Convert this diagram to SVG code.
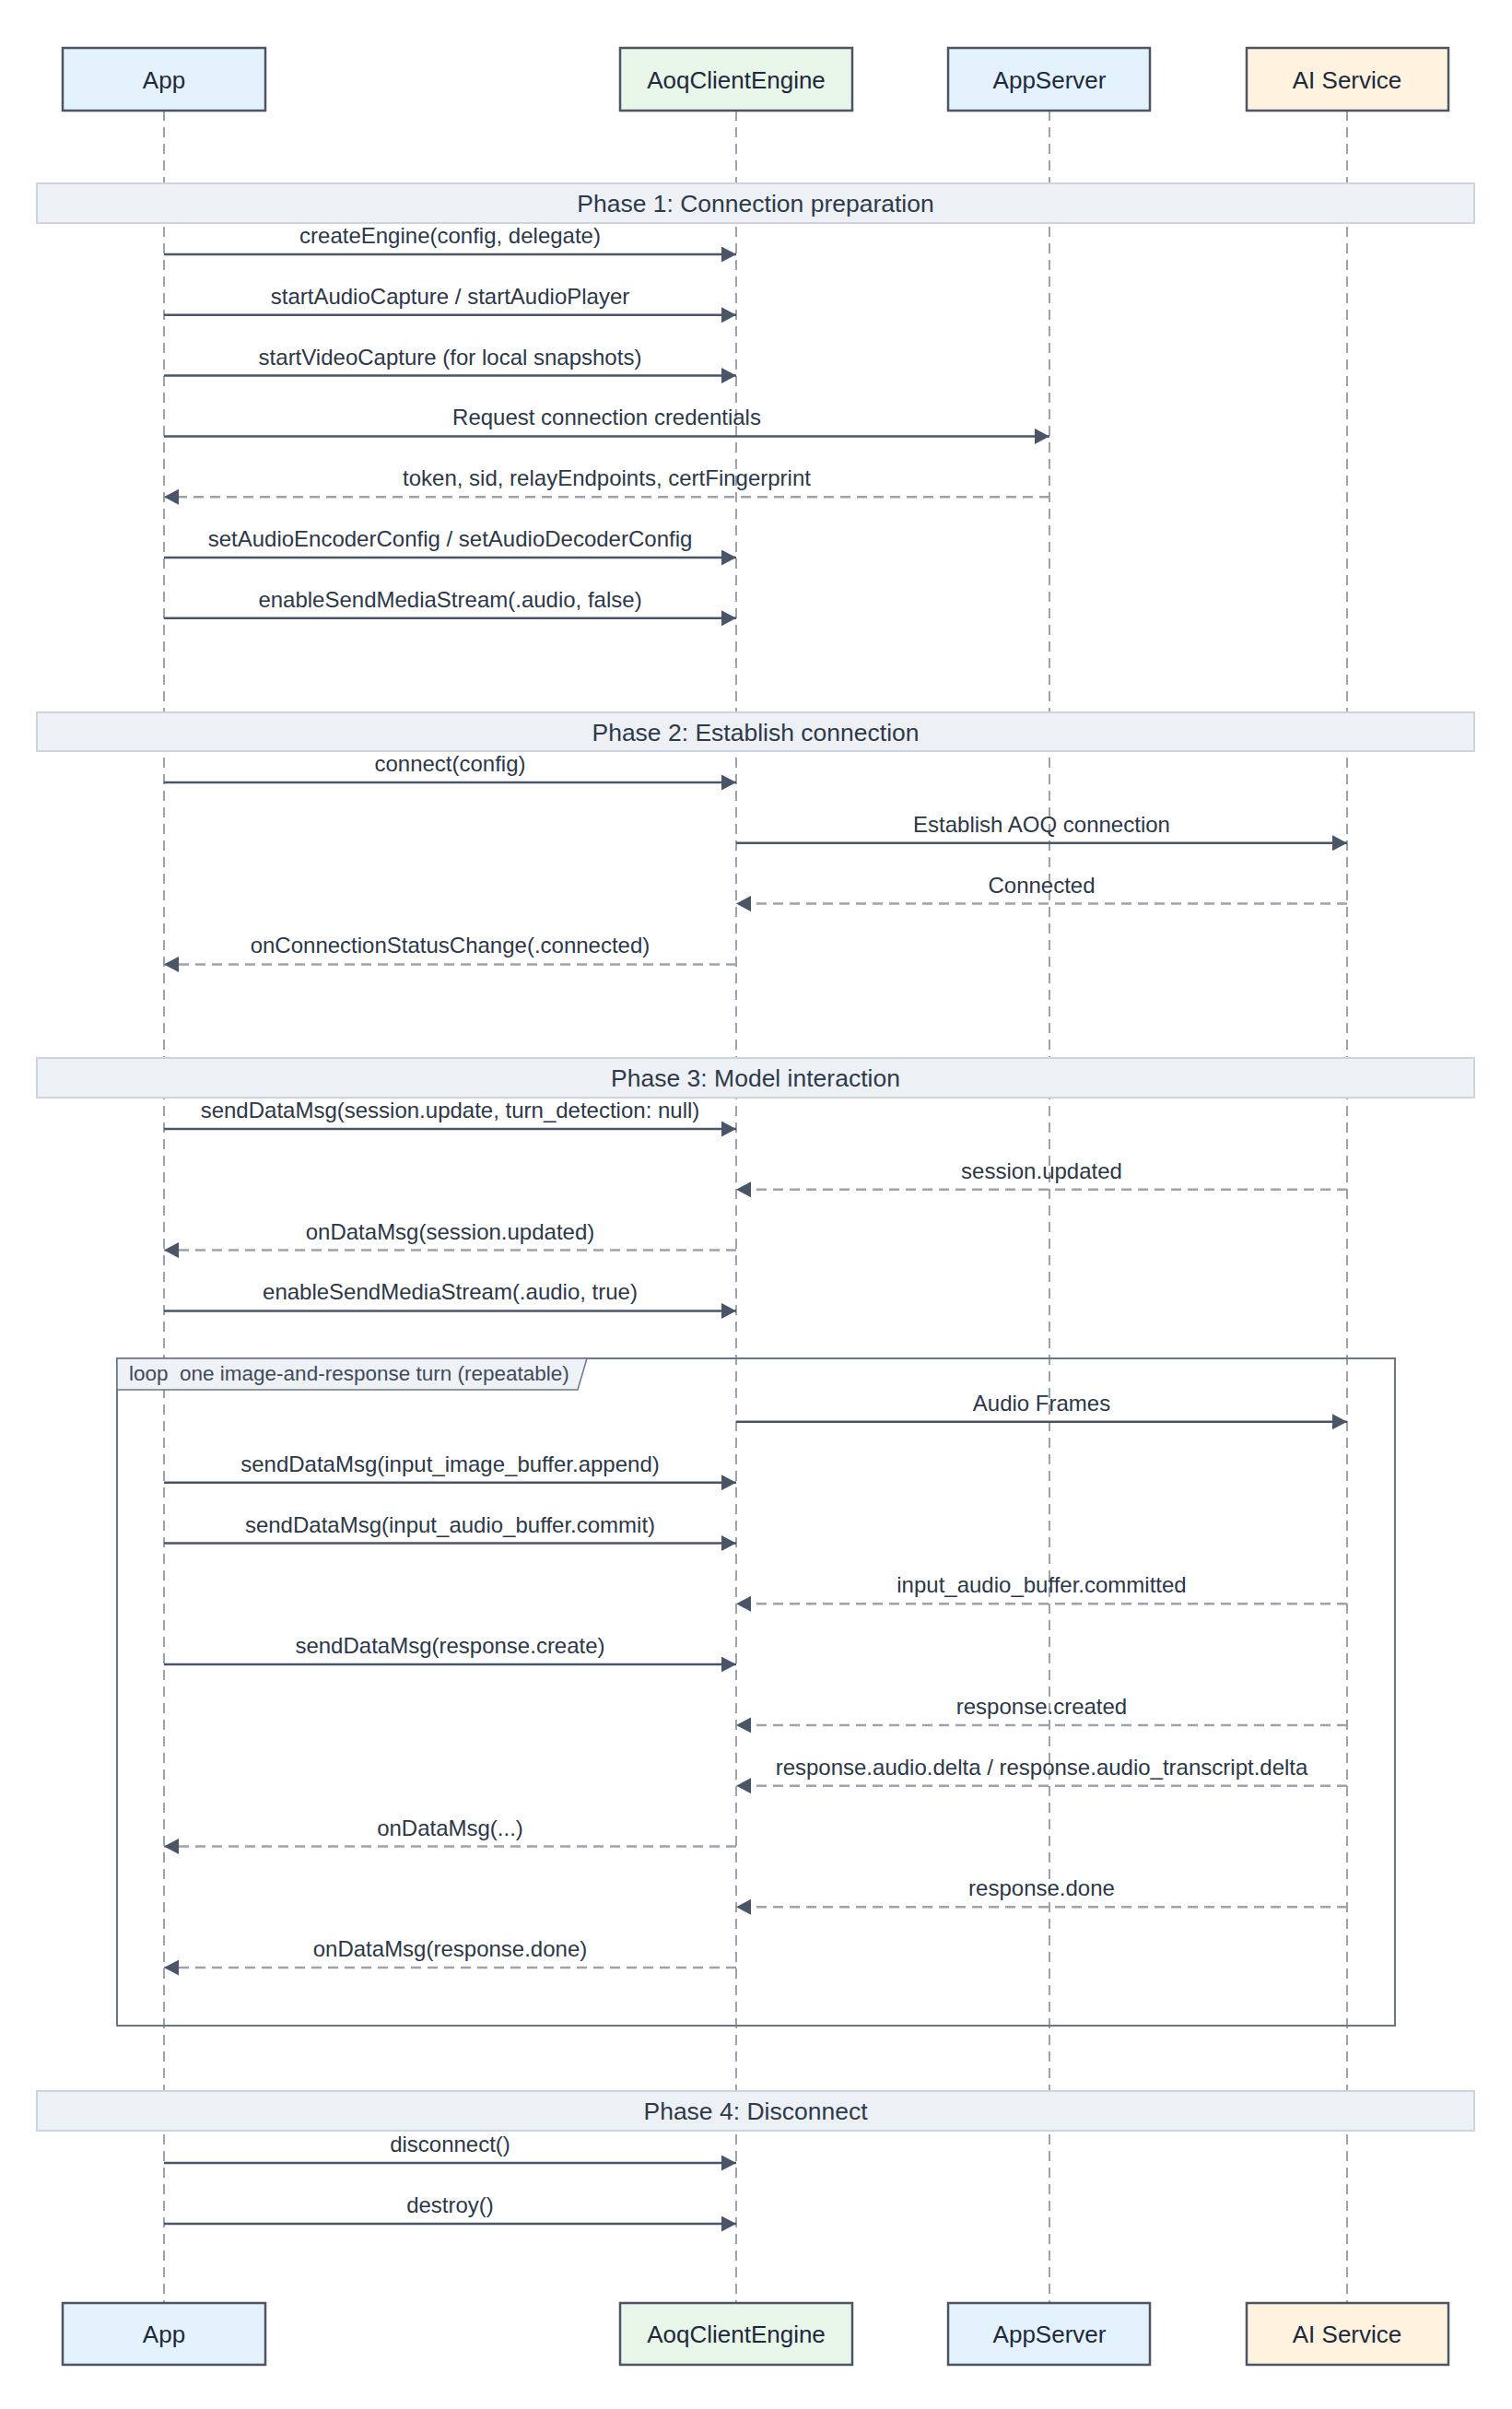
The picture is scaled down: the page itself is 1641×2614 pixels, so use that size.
<svg xmlns="http://www.w3.org/2000/svg" width="1641" height="2614" viewBox="0 0 1641 2614">
<style>
.bg{fill:#ffffff}
.pbox{stroke:#4b5563;stroke-width:2.5}
.app{fill:#e3f2fd}
.eng{fill:#e8f5e9}
.ai{fill:#fff3e0}
.ptxt{font-family:"Liberation Sans",Arial,sans-serif;font-size:26px;fill:#1e293b;text-anchor:middle}
.life{stroke:#9ca3af;stroke-width:2;stroke-dasharray:11 7;fill:none}
.phase{fill:#edf1f6;stroke:#cdd4dd;stroke-width:2}
.phtxt{font-family:"Liberation Sans",Arial,sans-serif;font-size:26.5px;fill:#2d3a4a;text-anchor:middle}
.msg{stroke:#4a5568;stroke-width:2.5;fill:none}
.ret{stroke:#9ca3af;stroke-width:2.5;stroke-dasharray:11 7;fill:none}
.mtxt{font-family:"Liberation Sans",Arial,sans-serif;font-size:24px;fill:#2d3748;text-anchor:middle}
.loop{fill:none;stroke:#6b7585;stroke-width:2}
.tab{fill:#eef1f6;stroke:#6b7585;stroke-width:1.5}
.ltxt{font-family:"Liberation Sans",Arial,sans-serif;font-size:22.5px;fill:#3f4a5a}
</style>
<defs>
<marker id="arr" markerUnits="userSpaceOnUse" markerWidth="16" markerHeight="17" refX="16" refY="8.5" orient="auto">
<path d="M0,0 L16,8.5 L0,17 Z" fill="#4a5568"/>
</marker>
</defs>
<rect class="bg" x="0" y="0" width="1641" height="2614"/>

<g id="lifelines">
<line class="life" x1="178" y1="120" x2="178" y2="2499"/>
<line class="life" x1="799" y1="120" x2="799" y2="2499"/>
<line class="life" x1="1139" y1="120" x2="1139" y2="2499"/>
<line class="life" x1="1462" y1="120" x2="1462" y2="2499"/>
</g>

<g id="phases">
<g id="phase1"><rect class="phase" x="40" y="199" width="1560" height="43"/><text class="phtxt" x="820" y="230">Phase 1: Connection preparation</text></g>
<g id="phase2"><rect class="phase" x="40" y="773" width="1560" height="42"/><text class="phtxt" x="820" y="803.5">Phase 2: Establish connection</text></g>
<g id="phase3"><rect class="phase" x="40" y="1148" width="1560" height="43"/><text class="phtxt" x="820" y="1179">Phase 3: Model interaction</text></g>
<g id="phase4"><rect class="phase" x="40" y="2269" width="1560" height="43"/><text class="phtxt" x="820" y="2300">Phase 4: Disconnect</text></g>
</g>

<g id="loop">
<rect class="loop" x="127" y="1474" width="1387" height="724"/>
<path class="tab" d="M127,1474 H637 L627,1508 H127 Z"/>
<text class="ltxt" x="140" y="1498" xml:space="preserve">loop  one image-and-response turn (repeatable)</text>
</g>

<g id="participants">
<g id="p-app-top"><rect class="pbox app" x="68" y="52" width="220" height="68"/><text class="ptxt" x="178" y="95.5">App</text></g>
<g id="p-engine-top"><rect class="pbox eng" x="673" y="52" width="252" height="68"/><text class="ptxt" x="799" y="95.5">AoqClientEngine</text></g>
<g id="p-server-top"><rect class="pbox app" x="1029" y="52" width="219" height="68"/><text class="ptxt" x="1139" y="95.5">AppServer</text></g>
<g id="p-ai-top"><rect class="pbox ai" x="1353" y="52" width="219" height="68"/><text class="ptxt" x="1462" y="95.5">AI Service</text></g>
<g id="p-app-bottom"><rect class="pbox app" x="68" y="2499" width="220" height="67"/><text class="ptxt" x="178" y="2542">App</text></g>
<g id="p-engine-bottom"><rect class="pbox eng" x="673" y="2499" width="252" height="67"/><text class="ptxt" x="799" y="2542">AoqClientEngine</text></g>
<g id="p-server-bottom"><rect class="pbox app" x="1029" y="2499" width="219" height="67"/><text class="ptxt" x="1139" y="2542">AppServer</text></g>
<g id="p-ai-bottom"><rect class="pbox ai" x="1353" y="2499" width="219" height="67"/><text class="ptxt" x="1462" y="2542">AI Service</text></g>
</g>

<g id="connectors">
<line class="msg" x1="178" y1="276" x2="799" y2="276" marker-end="url(#arr)"/>
<text class="mtxt" x="488.5" y="264">createEngine(config, delegate)</text>
<line class="msg" x1="178" y1="341.8" x2="799" y2="341.8" marker-end="url(#arr)"/>
<text class="mtxt" x="488.5" y="329.8">startAudioCapture / startAudioPlayer</text>
<line class="msg" x1="178" y1="407.6" x2="799" y2="407.6" marker-end="url(#arr)"/>
<text class="mtxt" x="488.5" y="395.6">startVideoCapture (for local snapshots)</text>
<line class="msg" x1="178" y1="473.4" x2="1139" y2="473.4" marker-end="url(#arr)"/>
<text class="mtxt" x="658.5" y="461.4">Request connection credentials</text>
<line class="ret" x1="1139" y1="539.2" x2="178" y2="539.2" marker-end="url(#arr)"/>
<text class="mtxt" x="658.5" y="527.2">token, sid, relayEndpoints, certFingerprint</text>
<line class="msg" x1="178" y1="605" x2="799" y2="605" marker-end="url(#arr)"/>
<text class="mtxt" x="488.5" y="593">setAudioEncoderConfig / setAudioDecoderConfig</text>
<line class="msg" x1="178" y1="670.8" x2="799" y2="670.8" marker-end="url(#arr)"/>
<text class="mtxt" x="488.5" y="658.8">enableSendMediaStream(.audio, false)</text>

<line class="msg" x1="178" y1="849" x2="799" y2="849" marker-end="url(#arr)"/>
<text class="mtxt" x="488.5" y="837">connect(config)</text>
<line class="msg" x1="799" y1="914.8" x2="1462" y2="914.8" marker-end="url(#arr)"/>
<text class="mtxt" x="1130.5" y="902.8">Establish AOQ connection</text>
<line class="ret" x1="1462" y1="980.6" x2="799" y2="980.6" marker-end="url(#arr)"/>
<text class="mtxt" x="1130.5" y="968.6">Connected</text>
<line class="ret" x1="799" y1="1046.4" x2="178" y2="1046.4" marker-end="url(#arr)"/>
<text class="mtxt" x="488.5" y="1034.4">onConnectionStatusChange(.connected)</text>

<line class="msg" x1="178" y1="1225" x2="799" y2="1225" marker-end="url(#arr)"/>
<text class="mtxt" x="488.5" y="1213">sendDataMsg(session.update, turn_detection: null)</text>
<line class="ret" x1="1462" y1="1290.8" x2="799" y2="1290.8" marker-end="url(#arr)"/>
<text class="mtxt" x="1130.5" y="1278.8">session.updated</text>
<line class="ret" x1="799" y1="1356.6" x2="178" y2="1356.6" marker-end="url(#arr)"/>
<text class="mtxt" x="488.5" y="1344.6">onDataMsg(session.updated)</text>
<line class="msg" x1="178" y1="1422.4" x2="799" y2="1422.4" marker-end="url(#arr)"/>
<text class="mtxt" x="488.5" y="1410.4">enableSendMediaStream(.audio, true)</text>

<line class="msg" x1="799" y1="1542.7" x2="1462" y2="1542.7" marker-end="url(#arr)"/>
<text class="mtxt" x="1130.5" y="1530.7">Audio Frames</text>
<line class="msg" x1="178" y1="1608.7" x2="799" y2="1608.7" marker-end="url(#arr)"/>
<text class="mtxt" x="488.5" y="1596.7">sendDataMsg(input_image_buffer.append)</text>
<line class="msg" x1="178" y1="1674.5" x2="799" y2="1674.5" marker-end="url(#arr)"/>
<text class="mtxt" x="488.5" y="1662.5">sendDataMsg(input_audio_buffer.commit)</text>
<line class="ret" x1="1462" y1="1740.3" x2="799" y2="1740.3" marker-end="url(#arr)"/>
<text class="mtxt" x="1130.5" y="1728.3">input_audio_buffer.committed</text>
<line class="msg" x1="178" y1="1806.1" x2="799" y2="1806.1" marker-end="url(#arr)"/>
<text class="mtxt" x="488.5" y="1794.1">sendDataMsg(response.create)</text>
<line class="ret" x1="1462" y1="1871.9" x2="799" y2="1871.9" marker-end="url(#arr)"/>
<text class="mtxt" x="1130.5" y="1859.9">response.created</text>
<line class="ret" x1="1462" y1="1937.7" x2="799" y2="1937.7" marker-end="url(#arr)"/>
<text class="mtxt" x="1130.5" y="1925.7">response.audio.delta / response.audio_transcript.delta</text>
<line class="ret" x1="799" y1="2003.5" x2="178" y2="2003.5" marker-end="url(#arr)"/>
<text class="mtxt" x="488.5" y="1991.5">onDataMsg(...)</text>
<line class="ret" x1="1462" y1="2069.3" x2="799" y2="2069.3" marker-end="url(#arr)"/>
<text class="mtxt" x="1130.5" y="2057.3">response.done</text>
<line class="ret" x1="799" y1="2135.1" x2="178" y2="2135.1" marker-end="url(#arr)"/>
<text class="mtxt" x="488.5" y="2123.1">onDataMsg(response.done)</text>

<line class="msg" x1="178" y1="2347" x2="799" y2="2347" marker-end="url(#arr)"/>
<text class="mtxt" x="488.5" y="2335">disconnect()</text>
<line class="msg" x1="178" y1="2413" x2="799" y2="2413" marker-end="url(#arr)"/>
<text class="mtxt" x="488.5" y="2401">destroy()</text>
</g>
</svg>
